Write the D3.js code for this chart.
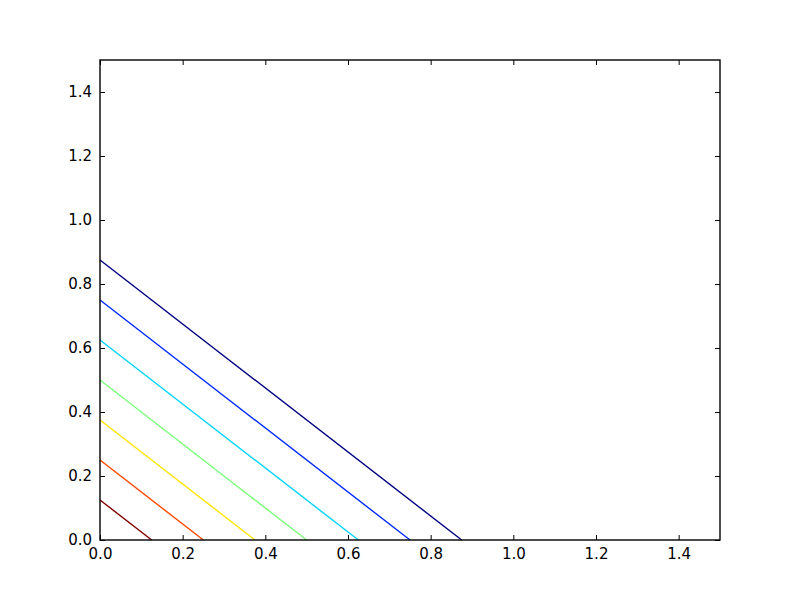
<!DOCTYPE html>
<html>
<head>
    <script src="https://d3js.org/d3.v7.min.js"></script>
    <style>
        body { margin: 0; background: white; font-family: "DejaVu Sans", sans-serif; }
        .tick text { font-size: 15px; fill: black; }
    </style>
</head>
<body>
    <svg width="800" height="600"></svg>
    <script>
        // contour levels of x + y, coloured with jet (reversed order)
        let levels = [0.125, 0.25, 0.375, 0.5, 0.625, 0.75, 0.875];
        let colors = ["#800000", "#ff4800", "#ffe600", "#7bff7b", "#00d4ff", "#002aff", "#000080"];
        let xTicks = [0.0, 0.2, 0.4, 0.6, 0.8, 1.0, 1.2, 1.4];
        let yTicks = [0.0, 0.2, 0.4, 0.6, 0.8, 1.0, 1.2, 1.4];

        let svg = d3.select("svg");
        let m = {left: 100, right: 720, top: 60, bottom: 540};

        let x = d3.scaleLinear().domain([0, 1.5]).range([m.left, m.right]);
        let y = d3.scaleLinear().domain([0, 1.5]).range([m.bottom, m.top]);

        // contour lines
        svg.selectAll(".level")
            .data(levels)
            .enter().append("line")
            .attr("class", "level")
            .attr("x1", x(0))
            .attr("y1", d => y(d))
            .attr("x2", d => x(d))
            .attr("y2", y(0))
            .attr("stroke", (d, i) => colors[i])
            .attr("stroke-width", 1.4);

        let fmt = d3.format(".1f");

        // axes, ticks point inward
        let bottomAxis = svg.append("g").attr("transform", `translate(0,${m.bottom})`)
            .call(d3.axisBottom(x).tickValues(xTicks).tickFormat(fmt).tickSizeInner(-5).tickSizeOuter(0).tickPadding(8));
        let topAxis = svg.append("g").attr("transform", `translate(0,${m.top})`)
            .call(d3.axisTop(x).tickValues(xTicks).tickFormat("").tickSizeInner(-5).tickSizeOuter(0));
        let leftAxis = svg.append("g").attr("transform", `translate(${m.left},0)`)
            .call(d3.axisLeft(y).tickValues(yTicks).tickFormat(fmt).tickSizeInner(-5).tickSizeOuter(0).tickPadding(8));
        let rightAxis = svg.append("g").attr("transform", `translate(${m.right},0)`)
            .call(d3.axisRight(y).tickValues(yTicks).tickFormat("").tickSizeInner(-5).tickSizeOuter(0));

        [bottomAxis, topAxis, leftAxis, rightAxis].forEach(g => {
            g.select(".domain").remove();
            g.selectAll(".tick line").attr("stroke", "black").attr("stroke-width", 1);
            g.selectAll(".tick text").attr("font-family", "DejaVu Sans").attr("font-size", 15);
        });

        // frame
        svg.append("rect")
            .attr("x", m.left).attr("y", m.top)
            .attr("width", m.right - m.left).attr("height", m.bottom - m.top)
            .attr("fill", "none").attr("stroke", "black").attr("stroke-width", 1.4);
    </script>
</body>
</html>
